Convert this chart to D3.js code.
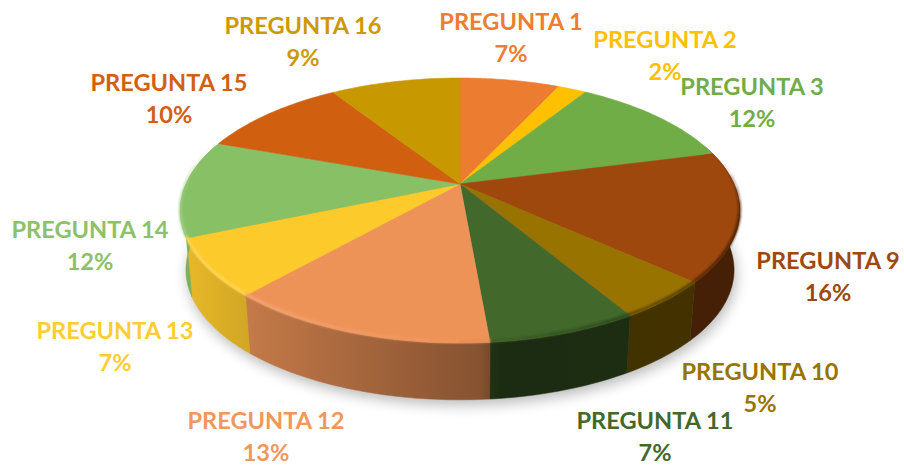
<!DOCTYPE html>
<html>
<head>
<meta charset="utf-8">
<script src="https://cdnjs.cloudflare.com/ajax/libs/d3/7.8.5/d3.min.js"></script>
<style>
	html, body { margin: 0; padding: 0; background: #fff; }
	svg { display: block; }
	text { font-family: Lato, "Open Sans", sans-serif; font-weight: 700; text-anchor: middle; }
</style>
</head>
<body>
<div id="chart"></div>
<script>
	//Values
	var categories = ["PREGUNTA 1","PREGUNTA 2","PREGUNTA 3","PREGUNTA 9","PREGUNTA 10","PREGUNTA 11","PREGUNTA 12","PREGUNTA 13","PREGUNTA 14","PREGUNTA 15","PREGUNTA 16"];
	var values = [7, 2, 12, 15.7, 4.7, 7.2, 13, 7, 11.9, 10.4, 9.1];
	var percentLabels = ["7%","2%","12%","16%","5%","7%","13%","7%","12%","10%","9%"];

	//Styles and label layout, same order as categories
	var colors = ["#ec7c30","#ffc000","#70ad47","#9e480e","#997300","#43682b","#ee9358","#fdca2c","#88c066","#d05f10","#c89800"];
	var labelColors = ["#ed7d31","#ffc000","#70ad47","#9e480e","#997300","#43682b","#f1975a","#ffcd33","#8cc168","#d26012","#cc9a00"];
	var labelX = [511, 665, 752, 828, 760, 655, 266, 115, 90, 169, 303];
	var labelY = [30, 48, 95, 269, 380, 429, 429, 339, 238, 91, 34];

	var w = 904, h = 466, lineGap = 32;

	var svg = d3.select("#chart").append("svg").attr("width", w).attr("height", h);
	var defs = svg.append("defs");

	defs.append("filter").attr("id","shadow-blur")
		.attr("x","-20%").attr("y","-20%").attr("width","140%").attr("height","140%")
		.append("feGaussianBlur").attr("stdDeviation", 7);
	defs.append("filter").attr("id","rim-blur")
		.attr("x","-10%").attr("y","-10%").attr("width","120%").attr("height","120%")
		.append("feGaussianBlur").attr("stdDeviation", 1.3);

	//Pie angles come from d3, no sorting so the slices stay in category order
	var arcs = d3.pie().sort(null).value(function(d) { return d; })(values);

	//Perspective projection of the pie's circle, angle 0 at the back, clockwise
	function project(a, lift) {
		var s = lift ? 0.98 : 1,
			dy = lift ? 60 : 0,
			u = Math.sin(a),
			v = -Math.cos(a),
			k = 1 - 0.2 * v;
		return [460 + s * 274 * u / k, 184 + dy + s * 127.2 * v / k];
	}

	function sampleRim(a0, a1, lift) {
		var n = Math.max(2, Math.ceil((a1 - a0) / 0.02));
		return d3.range(n + 1).map(function(i) { return project(a0 + (a1 - a0) * i / n, lift); });
	}

	var line = d3.line();

	//Side gets darker from left to right
	var shade = d3.scaleLinear().domain([180, 250, 490, 500, 740]).range([0.92, 0.82, 0.55, 0.42, 0.44]);

	function darken(col, f) {
		var c = d3.rgb(col);
		return d3.rgb(c.r * f, c.g * f, c.b * f).formatHex();
	}

	arcs.forEach(function(d, i) {
		var grad = defs.append("linearGradient").attr("id","side-" + i)
			.attr("gradientUnits","userSpaceOnUse")
			.attr("x1",180).attr("x2",740).attr("y1",0).attr("y2",0);
		d3.range(0, 29).forEach(function(j) {
			var x = 180 + j * 20;
			grad.append("stop").attr("offset", (j / 28))
				.attr("stop-color", darken(colors[i], shade(x)));
		});
	});

	//Soft shadow on the floor
	svg.append("path")
		.attr("d", line(sampleRim(0, 2 * Math.PI, true).map(function(p) { return [p[0] + 2, p[1] + 5]; })) + "Z")
		.attr("fill","#000").attr("opacity",0.28)
		.attr("filter","url(#shadow-blur)");

	//Pie walls, only the front half shows
	var sides = svg.append("g").attr("class","sides");
	arcs.forEach(function(d, i) {
		var start = Math.max(d.startAngle, Math.PI * 0.4),
			end = Math.min(d.endAngle, Math.PI * 1.6);
		if (end <= start) return;
		var top = sampleRim(start, end, false),
			bottom = sampleRim(start, end, true).reverse();
		sides.append("path")
			.attr("d", line(top.concat(bottom)) + "Z")
			.attr("fill","url(#side-" + i + ")")
			.attr("stroke","url(#side-" + i + ")")
			.attr("stroke-width",0.5);
	});

	//Pie top
	var tops = svg.append("g").attr("class","tops");
	arcs.forEach(function(d, i) {
		tops.append("path")
			.attr("d", line([[460, 184]].concat(sampleRim(d.startAngle, d.endAngle, false))) + "Z")
			.attr("fill", colors[i])
			.attr("stroke", colors[i])
			.attr("stroke-width",0.6);
	});

	//Bevel along the rim, light on the left and dark on the right, fades out toward the back
	var bevel = svg.append("g").attr("class","bevel").attr("filter","url(#rim-blur)");
	var bevelFade = d3.scaleLinear()
		.domain([Math.PI * 0.45, Math.PI * 0.6, Math.PI * 1.4, Math.PI * 1.6])
		.range([0, 1, 1, 0]).clamp(true);
	arcs.forEach(function(d, i) {
		var start = Math.max(d.startAngle, Math.PI * 0.45),
			end = Math.min(d.endAngle, Math.PI * 1.6);
		if (end <= start) return;
		var n = Math.ceil((end - start) / 0.1);
		d3.range(n).forEach(function(j) {
			var a0 = start + (end - start) * j / n,
				a1 = start + (end - start) * (j + 1) / n,
				x = project((a0 + a1) / 2, false)[0],
				t = (x - 180) / 560,
				c = t < 0.5
					? d3.interpolateRgb(colors[i], "#fff")(0.22 * (1 - t * 2))
					: darken(colors[i], 1 - 0.55 * (t - 0.5) * 2);
			bevel.append("path")
				.attr("d", line(sampleRim(a0, a1, false).map(function(p) { return [p[0], p[1] - 1.5]; })))
				.attr("fill","none")
				.attr("stroke", c)
				.attr("stroke-opacity", bevelFade((a0 + a1) / 2))
				.attr("stroke-width",3);
		});
	});

	//Labels
	var labels = svg.append("g").attr("class","labels").selectAll("g")
		.data(categories)
		.enter().append("g")
		.attr("transform", function(d, i) { return "translate(" + labelX[i] + "," + labelY[i] + ")"; })
		.attr("fill", function(d, i) { return labelColors[i]; })
		.style("font-size","23.6px");

	labels.append("text").text(function(d) { return d; });
	labels.append("text").attr("y", lineGap).text(function(d, i) { return percentLabels[i]; });
</script>
</body>
</html>
